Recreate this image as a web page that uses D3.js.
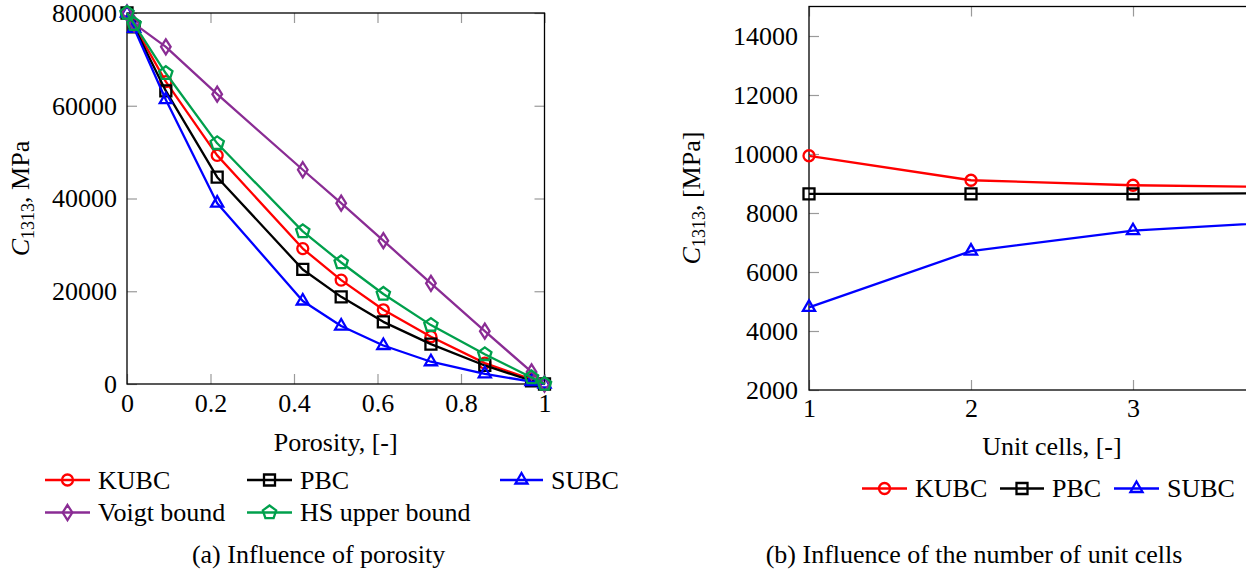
<!DOCTYPE html>
<html>
<head>
<meta charset="utf-8">
<script src="https://cdn.jsdelivr.net/npm/d3@7"></script>
<style>
  body { margin: 0; background: #fff; }
  svg, svg text { font-family: "Liberation Serif", "DejaVu Serif", "Times New Roman", Times, serif; }
  .tick line { stroke: #9a9a9a; stroke-width: 1.2; }
  .tick text { font-size: 26px; fill: #000; }
  .domain { display: none; }
</style>
</head>
<body>
<svg id="chart" width="1246" height="579"></svg>
<script>
// (a) porosity sweep
const porosity = [0, 0.017, 0.093, 0.216, 0.421, 0.513, 0.614, 0.728, 0.857, 0.969, 1];
const kubcPorosity = [80000, 77300, 65200, 49300, 29200, 22400, 16000, 10200, 4500, 1000, 0];
const pbcPorosity = [80000, 77000, 63200, 44600, 24700, 18800, 13400, 8600, 4000, 700, 0];
const subcPorosity = [80000, 76700, 61300, 39000, 17900, 12500, 8300, 4800, 2200, 500, 0];
const voigtBound = [80000, 77700, 72700, 62500, 46200, 39000, 30900, 21700, 11400, 2600, 0];
const hsUpperBound = [80000, 77600, 67000, 51900, 32900, 26200, 19400, 12700, 6400, 1400, 0];
const porosityTicks = [0, 0.2, 0.4, 0.6, 0.8, 1];
const stiffnessTicksA = [0, 20000, 40000, 60000, 80000];

// (b) number of unit cells
const unitCells = [1, 2, 3, 4];
const kubcCells = [9940, 9110, 8940, 8870];
const pbcCells = [8650, 8650, 8650, 8670];
const subcCells = [4800, 6710, 7400, 7720];
const cellTicks = [1, 2, 3];
const stiffnessTicksB = [2000, 4000, 6000, 8000, 10000, 12000, 14000];

const svg = d3.select("#chart");

// marker outlines around the origin
function markerPath(shape) {
  const p = d3.path();
  if (shape === "circle") {
    p.arc(0, 0, 5.5, 0, 2 * Math.PI);
  } else if (shape === "square") {
    p.rect(-5.5, -5.5, 11, 11);
  } else if (shape === "triangle") {
    const r = 7;
    p.moveTo(0, -r);
    p.lineTo(r * 0.866, r * 0.5);
    p.lineTo(-r * 0.866, r * 0.5);
    p.closePath();
  } else if (shape === "diamond") {
    p.moveTo(0, -7.5);
    p.lineTo(4.8, 0);
    p.lineTo(0, 7.5);
    p.lineTo(-4.8, 0);
    p.closePath();
  } else if (shape === "pentagon") {
    const r = 7;
    for (let k = 0; k < 5; k++) {
      const a = -Math.PI / 2 + k * 2 * Math.PI / 5;
      if (k === 0) p.moveTo(r * Math.cos(a), r * Math.sin(a));
      else p.lineTo(r * Math.cos(a), r * Math.sin(a));
    }
    p.closePath();
  }
  return p.toString();
}

function drawSeries(g, xs, ys, x, y, color, shape) {
  const pts = xs.map((d, i) => [x(d), y(ys[i])]);
  g.append("path")
    .attr("d", d3.line()(pts))
    .attr("fill", "none")
    .attr("stroke", color)
    .attr("stroke-width", 2.3)
    .attr("stroke-linejoin", "round");
  g.selectAll(null)
    .data(pts)
    .enter().append("path")
    .attr("transform", d => `translate(${d[0]},${d[1]})`)
    .attr("d", markerPath(shape))
    .attr("fill", "none")
    .attr("stroke", color)
    .attr("stroke-width", 2.3);
}

function legendItem(g, x0, x1, yy, color, shape, label) {
  g.append("line")
    .attr("x1", x0).attr("x2", x1)
    .attr("y1", yy).attr("y2", yy)
    .attr("stroke", color).attr("stroke-width", 2.3);
  g.append("path")
    .attr("transform", `translate(${(x0 + x1) / 2},${yy})`)
    .attr("d", markerPath(shape))
    .attr("fill", "none")
    .attr("stroke", color)
    .attr("stroke-width", 2.3);
  g.append("text")
    .attr("x", x1 + 8)
    .attr("y", yy + 8.5)
    .attr("font-size", 26)
    .text(label);
}

function yLabel(x, yc, unit) {
  const t = svg.append("text")
    .attr("transform", `translate(${x},${yc}) rotate(-90)`)
    .attr("text-anchor", "middle")
    .attr("font-size", 26);
  t.append("tspan").attr("font-style", "italic").text("C");
  t.append("tspan").attr("font-size", 18).attr("dy", 5).text("1313");
  t.append("tspan").attr("dy", -5).text(", " + unit);
}

// mirrored inward ticks on all sides + black frame
function frame(x, y, xTicks, yTicks, xFmt, yFmt, xPad, yPad) {
  const [left, right] = x.range();
  const [bottom, top] = y.range();
  svg.append("g")
    .attr("transform", `translate(0,${bottom})`)
    .call(d3.axisBottom(x).tickValues(xTicks).tickSize(-10).tickPadding(xPad).tickFormat(xFmt));
  svg.append("g")
    .attr("transform", `translate(0,${top})`)
    .call(d3.axisTop(x).tickValues(xTicks).tickSize(-10).tickFormat(""));
  svg.append("g")
    .attr("transform", `translate(${left},0)`)
    .call(d3.axisLeft(y).tickValues(yTicks).tickSize(-10).tickPadding(yPad).tickFormat(yFmt));
  svg.append("g")
    .attr("transform", `translate(${right},0)`)
    .call(d3.axisRight(y).tickValues(yTicks).tickSize(-10).tickFormat(""));
  svg.selectAll("g").attr("font-family", null);
  svg.append("rect")
    .attr("x", left).attr("y", top)
    .attr("width", right - left).attr("height", bottom - top)
    .attr("fill", "none")
    .attr("stroke", "#000")
    .attr("stroke-width", 1.3);
}

// ---------- (a) Influence of porosity ----------
const xA = d3.scaleLinear().domain([0, 1]).range([127, 544.5]);
const yA = d3.scaleLinear().domain([0, 80000]).range([384, 13]);

frame(xA, yA, porosityTicks, stiffnessTicksA, d3.format("~g"), d => d, 9.5, 10);

const gA = svg.append("g");
drawSeries(gA, porosity, kubcPorosity, xA, yA, "#ff0000", "circle");
drawSeries(gA, porosity, pbcPorosity, xA, yA, "#000000", "square");
drawSeries(gA, porosity, subcPorosity, xA, yA, "#0000ff", "triangle");
drawSeries(gA, porosity, voigtBound, xA, yA, "#8a2c94", "diamond");
drawSeries(gA, porosity, hsUpperBound, xA, yA, "#00a04c", "pentagon");

svg.append("text")
  .attr("x", 335.7).attr("y", 451)
  .attr("text-anchor", "middle").attr("font-size", 26)
  .text("Porosity, [-]");
yLabel(29, 198.5, "MPa");

const legA = svg.append("g");
legendItem(legA, 45, 90, 480, "#ff0000", "circle", "KUBC");
legendItem(legA, 247, 292, 480, "#000000", "square", "PBC");
legendItem(legA, 500, 543, 480, "#0000ff", "triangle", "SUBC");
legendItem(legA, 45, 90, 512.5, "#8a2c94", "diamond", "Voigt bound");
legendItem(legA, 247, 292, 512.5, "#00a04c", "pentagon", "HS upper bound");

svg.append("text")
  .attr("x", 318.6).attr("y", 563)
  .attr("text-anchor", "middle").attr("font-size", 26)
  .text("(a) Influence of porosity");

// ---------- (b) Influence of the number of unit cells ----------
const xB = d3.scaleLinear().domain([1, 4]).range([809, 1295]);
const yB = d3.scaleLinear().domain([2000, 15000]).range([390, 6.5]);

frame(xB, yB, cellTicks, stiffnessTicksB, d3.format("d"), d => d, 8.5, 11);

const gB = svg.append("g");
drawSeries(gB, unitCells, kubcCells, xB, yB, "#ff0000", "circle");
drawSeries(gB, unitCells, pbcCells, xB, yB, "#000000", "square");
drawSeries(gB, unitCells, subcCells, xB, yB, "#0000ff", "triangle");

svg.append("text")
  .attr("x", 1052).attr("y", 455)
  .attr("text-anchor", "middle").attr("font-size", 26)
  .text("Unit cells, [-]");
yLabel(700, 198, "[MPa]");

const legB = svg.append("g");
legendItem(legB, 862, 907, 488.5, "#ff0000", "circle", "KUBC");
legendItem(legB, 1000, 1044, 488.5, "#000000", "square", "PBC");
legendItem(legB, 1114, 1159, 488.5, "#0000ff", "triangle", "SUBC");

svg.append("text")
  .attr("x", 974).attr("y", 563)
  .attr("text-anchor", "middle").attr("font-size", 26)
  .text("(b) Influence of the number of unit cells");
</script>
</body>
</html>
